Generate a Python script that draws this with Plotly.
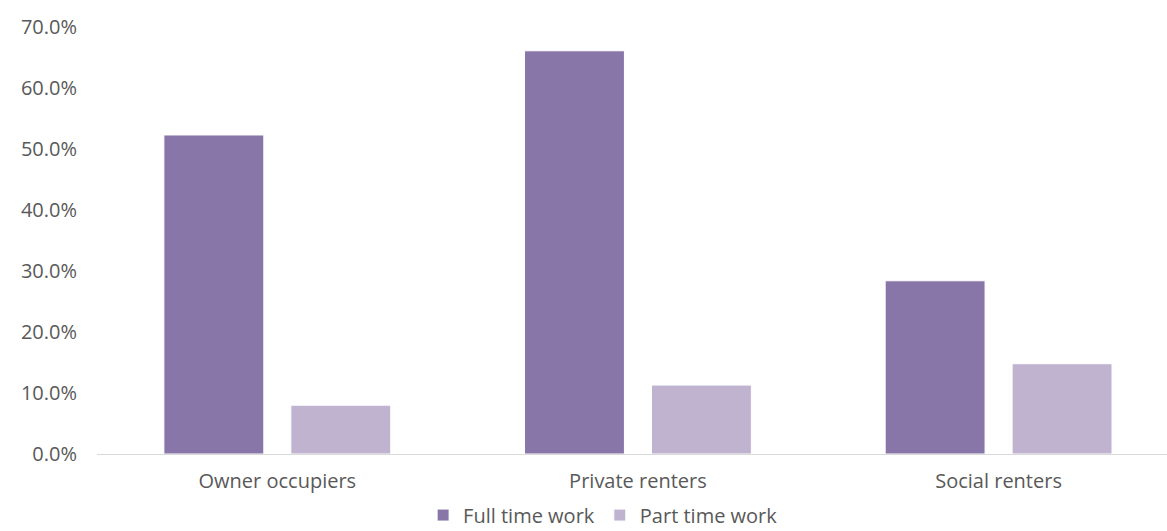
import plotly.graph_objects as go

categories = ["Owner occupiers", "Private renters", "Social renters"]
full_time = [52.3, 66.1, 28.4]
part_time = [8.0, 11.3, 14.8]
y_ticks = [0, 10, 20, 30, 40, 50, 60, 70]
y_tick_labels = ["0.0%", "10.0%", "20.0%", "30.0%", "40.0%", "50.0%", "60.0%", "70.0%"]

font_family = "'Open Sans', sans-serif"
text_color = "#595959"
clear = "rgba(0,0,0,0)"

fig = go.Figure()
fig.add_trace(go.Bar(
    name="Full time work", x=categories, y=full_time,
    marker=dict(color="#8976A8", line=dict(color="#FFFFFF", width=1)),
))
fig.add_trace(go.Bar(
    name="Part time work", x=categories, y=part_time,
    marker=dict(color="#BFB3D0", line=dict(color="#FFFFFF", width=1)),
))

fig.update_layout(
    width=1167, height=531,
    margin=dict(l=97, r=0, t=27, b=77, autoexpand=False),
    paper_bgcolor="white", plot_bgcolor="white",
    barmode="group", bargap=0.296, bargroupgap=0.213,
    font=dict(family=font_family, size=20, color=text_color),
    showlegend=True,
    legend=dict(
        orientation="h", x=0.473, xanchor="center",
        yref="container", y=0.03, yanchor="middle",
        font=dict(size=20, color=text_color),
        traceorder="normal",
    ),
    xaxis=dict(
        range=[-0.5, 2.467],
        showline=True, linecolor="#D9D9D9", linewidth=1,
        showgrid=False, ticks="outside", ticklen=9, tickcolor=clear,
        tickfont=dict(size=20, color=text_color),
    ),
    yaxis=dict(
        range=[0, 70], tickvals=y_ticks, ticktext=y_tick_labels,
        showgrid=False, zeroline=False, showline=False,
        ticks="outside", ticklen=15, tickcolor=clear,
        tickfont=dict(size=20, color=text_color),
    ),
)

fig.write_html("out.html")
